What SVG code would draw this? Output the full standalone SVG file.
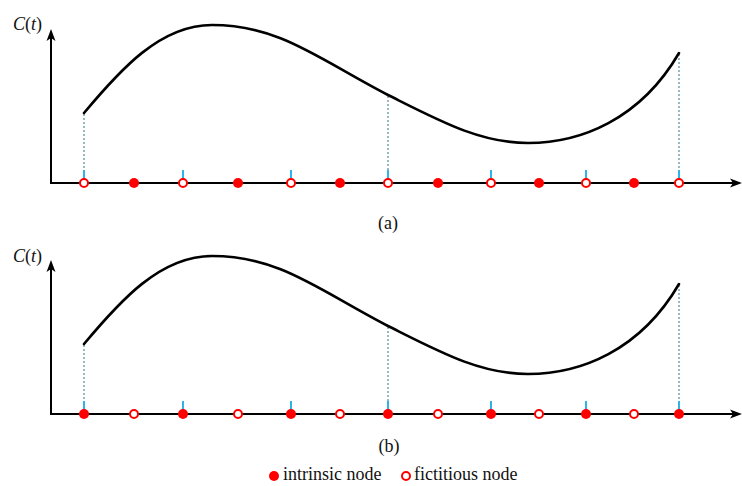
<svg xmlns="http://www.w3.org/2000/svg" xmlns:xlink="http://www.w3.org/1999/xlink" width="742" height="486" viewBox="0 0 742 486">
<style>
.axis{stroke:#000;stroke-width:2;fill:none}
.head{fill:#000}
.curve{stroke:#000;stroke-width:2.6;fill:none;stroke-linecap:round}
.dot{stroke:#7fa9b3;stroke-width:1.6;stroke-dasharray:2 2;fill:none}
.tick{stroke:#2fb4ea;stroke-width:2}
.in{fill:#f00}
.fic{fill:#fff;stroke:#f00;stroke-width:2}
.lbl{font-family:"Liberation Serif","Times New Roman",serif;font-size:18px;fill:#111}
</style>
<defs>
<path id="crv" class="curve" d="M84,113 C120,70 160,25 212,25 C280,25 320,60 388,95 C440,121 480,143 528,143 C580,143 640,120 679,53"/>
<g id="frame">
<line class="axis" x1="51" y1="184" x2="51" y2="36"/>
<polygon class="head" points="51,29 46.5,41 51,38 55.5,41"/>
<line class="axis" x1="50" y1="183" x2="735" y2="183"/>
<polygon class="head" points="742,183 730,178.5 733,183 730,187.5"/>
<path class="dot" d="M84,114V170M388,96V170M679,54V170"/>
</g>
</defs>

<g id="panel-a">
<use xlink:href="#frame"/>
<use xlink:href="#crv"/>
<text class="lbl" x="13" y="30"><tspan font-style="italic">C</tspan>(<tspan font-style="italic">t</tspan>)</text>
<g id="ticks-a">
<path class="tick" d="M84,170V183M183,170V183M291,170V183M388,170V183M491,170V183M586,170V183M679,170V183"/>
</g>
<g id="nodes-a">
<circle class="fic" cx="84" cy="183" r="4"/>
<circle class="in" cx="134" cy="183" r="5"/>
<circle class="fic" cx="183" cy="183" r="4"/>
<circle class="in" cx="238" cy="183" r="5"/>
<circle class="fic" cx="291" cy="183" r="4"/>
<circle class="in" cx="340" cy="183" r="5"/>
<circle class="fic" cx="388" cy="183" r="4"/>
<circle class="in" cx="438" cy="183" r="5"/>
<circle class="fic" cx="491" cy="183" r="4"/>
<circle class="in" cx="539" cy="183" r="5"/>
<circle class="fic" cx="586" cy="183" r="4"/>
<circle class="in" cx="634" cy="183" r="5"/>
<circle class="fic" cx="679" cy="183" r="4"/>
</g>
<text class="lbl" x="388" y="229" text-anchor="middle">(a)</text>
</g>

<g id="panel-b">
<g transform="translate(0,231)">
<use xlink:href="#frame"/>
<use xlink:href="#crv"/>
<path class="tick" d="M84,170V183M183,170V183M291,170V183M388,170V183M491,170V183M586,170V183M679,170V183"/>
<g id="nodes-b">
<circle class="in" cx="84" cy="183" r="5"/>
<circle class="fic" cx="134" cy="183" r="4"/>
<circle class="in" cx="183" cy="183" r="5"/>
<circle class="fic" cx="238" cy="183" r="4"/>
<circle class="in" cx="291" cy="183" r="5"/>
<circle class="fic" cx="340" cy="183" r="4"/>
<circle class="in" cx="388" cy="183" r="5"/>
<circle class="fic" cx="438" cy="183" r="4"/>
<circle class="in" cx="491" cy="183" r="5"/>
<circle class="fic" cx="539" cy="183" r="4"/>
<circle class="in" cx="586" cy="183" r="5"/>
<circle class="fic" cx="634" cy="183" r="4"/>
<circle class="in" cx="679" cy="183" r="5"/>
</g>
</g>
<text class="lbl" x="13" y="262"><tspan font-style="italic">C</tspan>(<tspan font-style="italic">t</tspan>)</text>
<text class="lbl" x="389" y="452" text-anchor="middle">(b)</text>
</g>

<g id="legend">
<circle class="in" cx="274" cy="476" r="5"/>
<text class="lbl" x="283" y="480">intrinsic node</text>
<circle class="fic" cx="406" cy="476" r="4"/>
<text class="lbl" x="414" y="480">fictitious node</text>
</g>
</svg>
